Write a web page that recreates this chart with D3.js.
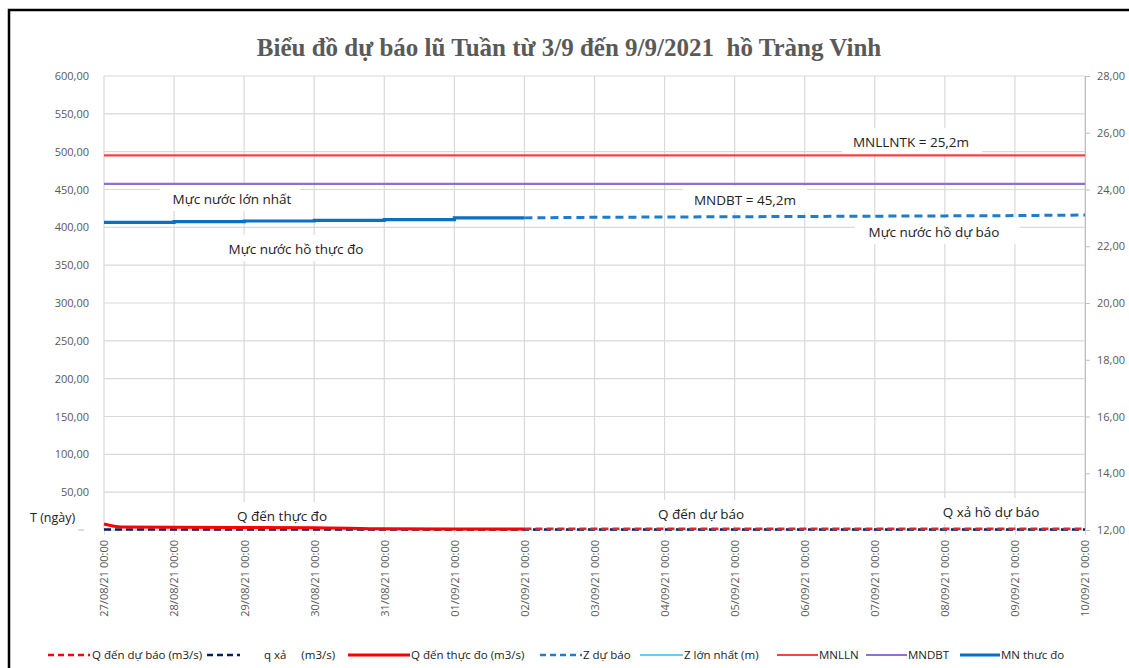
<!DOCTYPE html>
<html><head><meta charset="utf-8">
<script src="https://cdn.jsdelivr.net/npm/d3@7"></script>
<style>
body{margin:0;background:#fff;}
svg text{font-family:"Open Sans","Noto Sans",sans-serif;}
</style></head>
<body><svg id="c" width="1129" height="668"></svg>
<script>
// ---------- data ----------
const dayLabels = ["27/08/21 00:00","28/08/21 00:00","29/08/21 00:00","30/08/21 00:00","31/08/21 00:00","01/09/21 00:00","02/09/21 00:00","03/09/21 00:00","04/09/21 00:00","05/09/21 00:00","06/09/21 00:00","07/09/21 00:00","08/09/21 00:00","09/09/21 00:00","10/09/21 00:00"];
const leftTicks = [0,50,100,150,200,250,300,350,400,450,500,550,600];
const rightTicks = [12,14,16,18,20,22,24,26,28];

// MN thực đo (m, right axis)
const mnObsTimes = ["27/08/21 00:00","28/08/21 00:00","29/08/21 00:00","30/08/21 00:00","31/08/21 00:00","01/09/21 00:00","02/09/21 00:00"];
const mnObsValues = [22.84,22.87,22.89,22.91,22.94,23.00,23.00];
// Z dự báo (m, right axis)
const zFcTimes = ["02/09/21 00:00","03/09/21 00:00","04/09/21 00:00","05/09/21 00:00","06/09/21 00:00","07/09/21 00:00","08/09/21 00:00","09/09/21 00:00","10/09/21 00:00"];
const zFcValues = [23.00,23.02,23.03,23.04,23.05,23.06,23.07,23.08,23.10];
// MNLLN, MNDBT (right axis)
const mnllnValue = 25.2;
const mndbtValue = 24.2;
// Q đến thực đo (m3/s, left axis)
const qObsTimes = ["27/08/21 00:00","27/08/21 06:00","28/08/21 00:00","29/08/21 00:00","30/08/21 00:00","31/08/21 00:00","01/09/21 00:00","02/09/21 00:00"];
const qObsValues = [8,4,3.5,3.3,3.0,1.5,1.2,1.2];
// Q đến dự báo (m3/s)
const qFcTimes = zFcTimes;
const qFcValues = [1.5,1.5,1.5,1.5,1.5,1.5,1.5,1.5,1.5];
// q xả (m3/s)
const qOutTimes = dayLabels;
const qOutValues = [0.5,0.5,0.5,0.5,0.5,0.5,0.5,0.5,0.5,0.5,0.5,0.5,0.5,0.5,0.5];

const titleText = "Biểu đồ dự báo lũ Tuần từ 3/9 đến 9/9/2021  hồ Tràng Vinh";
const legendNames = ["Q đến dự báo (m3/s)","q xả     (m3/s)","Q đến thực đo (m3/s)","Z dự báo","Z lớn nhất (m)","MNLLN","MNDBT","MN thưc đo"];

// ---------- layout ----------
const parse = d3.timeParse("%d/%m/%y %H:%M");
const svg = d3.select("#c");
const X0=104, X1=1085, Y0=76, Y1=530;
const x = d3.scaleTime().domain([parse(dayLabels[0]), parse(dayLabels[dayLabels.length-1])]).range([X0,X1]);
const yL = d3.scaleLinear().domain([0,600]).range([Y1,Y0]);
const yR = d3.scaleLinear().domain([12,28]).range([Y1,Y0]);
const fmt = v => d3.format(".2f")(v).replace(".",",");

// border
svg.append("rect").attr("x",9).attr("y",10).attr("width",1140).attr("height",680)
  .attr("fill","none").attr("stroke","#000").attr("stroke-width",2.5);

// title
svg.append("text").attr("x",569).attr("y",56).attr("text-anchor","middle")
  .attr("xml:space","preserve").style("white-space","pre")
  .style("font-family","'Liberation Serif','DejaVu Serif',serif").style("font-weight","bold")
  .style("font-size","25px").attr("fill","#595959").text(titleText);

// gridlines
const grid = svg.append("g");
grid.selectAll(".h").data(leftTicks).join("line")
  .attr("x1",X0).attr("x2",X1).attr("y1",d=>yL(d)).attr("y2",d=>yL(d))
  .attr("stroke","#d9d9d9").attr("stroke-width",1.2);
grid.selectAll(".v").data(dayLabels).join("line")
  .attr("x1",d=>x(parse(d))).attr("x2",d=>x(parse(d))).attr("y1",Y0).attr("y2",Y1)
  .attr("stroke","#d9d9d9").attr("stroke-width",1.2);

// left axis labels
const gl = svg.append("g").attr("transform",`translate(${X0},0)`)
  .call(d3.axisLeft(yL).tickValues(leftTicks.filter(d=>d>0)).tickFormat(fmt).tickSize(0).tickPadding(15));
gl.select(".domain").remove();
gl.selectAll("text").attr("fill","#595959").style("font-size","11px");
svg.append("text").attr("x",30).attr("y",522).attr("fill","#222").style("font-size","12.5px").text("T (ngày)");
svg.append("line").attr("x1",78).attr("x2",84).attr("y1",Y1).attr("y2",Y1).attr("stroke","#bbb");

// right axis
const gr = svg.append("g").attr("transform",`translate(${X1},0)`)
  .call(d3.axisRight(yR).tickValues(rightTicks).tickFormat(fmt).tickSize(5).tickPadding(7));
gr.select(".domain").attr("stroke","#bfbfbf");
gr.selectAll("line").attr("stroke","#bfbfbf");
gr.selectAll("text").attr("fill","#595959").style("font-size","11px");

// bottom axis
const gb = svg.append("g").attr("transform",`translate(0,${Y1})`)
  .call(d3.axisBottom(x).tickValues(dayLabels.map(parse)).tickFormat(d3.timeFormat("%d/%m/%y %H:%M")).tickSize(5).tickPadding(0));
gb.select(".domain").attr("stroke","#d9d9d9");
gb.selectAll("line").attr("stroke","#d9d9d9");
gb.selectAll("text").attr("fill","#595959").style("font-size","11px")
  .attr("transform","rotate(-90)").attr("text-anchor","end").attr("x",-10).attr("y",0).attr("dy","0.35em");

// annotation label boxes (white backgrounds)
const annos = [
  {t:"Mực nước lớn nhất", x:232, y:199, bx:160, bw:140},
  {t:"Mực nước hồ thực đo", x:296, y:249, bx:217, bw:163},
  {t:"MNLLNTK = 25,2m", x:911, y:142, bx:842, bw:140},
  {t:"MNDBT = 45,2m", x:745, y:200, bx:683, bw:124},
  {t:"Mực nước hồ dự báo", x:934, y:232, bx:855, bw:165},
  {t:"Q đến thực đo", x:282, y:516, bx:225, bw:118},
  {t:"Q đến dự báo", x:701, y:514, bx:645, bw:115},
  {t:"Q xả hồ dự báo", x:991, y:512, bx:920, bw:145}
];
const ag = svg.append("g");
ag.selectAll("rect").data(annos).join("rect")
  .attr("x",d=>d.bx).attr("width",d=>d.bw).attr("y",d=>d.y-14).attr("height",26).attr("fill","#fff");

// lines
const lineL = d3.line().x(d=>x(d[0])).y(d=>yL(d[1]));
const lineR = d3.line().x(d=>x(d[0])).y(d=>yR(d[1]));
const zip = (ts,vs)=>ts.map((t,i)=>[parse(t),vs[i]]);

// horizontal reference lines
svg.append("path").datum([[parse(dayLabels[0]),mnllnValue],[parse(dayLabels[14]),mnllnValue]])
  .attr("d",lineR).attr("stroke","#ff4040").attr("stroke-width",2.2).attr("fill","none");
svg.append("path").datum([[parse(dayLabels[0]),mndbtValue],[parse(dayLabels[14]),mndbtValue]])
  .attr("d",lineR).attr("stroke","#8c72cc").attr("stroke-width",2.2).attr("fill","none");

// water levels
svg.append("path").datum(zip(zFcTimes,zFcValues)).attr("d",lineR)
  .attr("stroke","#1f7ccc").attr("stroke-width",3).attr("stroke-dasharray","8,5").attr("fill","none");
svg.append("path").datum(zip(mnObsTimes,mnObsValues))
  .attr("d",d3.line().x(d=>x(d[0])).y(d=>yR(d[1])).curve(d3.curveStepAfter))
  .attr("stroke","#0b6fc2").attr("stroke-width",3.2).attr("fill","none");

// discharges
svg.append("path").datum(zip(qOutTimes,qOutValues)).attr("d",lineL)
  .attr("stroke","#002060").attr("stroke-width",2.5).attr("stroke-dasharray","7,4").attr("fill","none");
svg.append("path").datum(zip(qObsTimes,qObsValues)).attr("d",d3.line().x(d=>x(d[0])).y(d=>yL(d[1])).curve(d3.curveMonotoneX))
  .attr("stroke","#ff0000").attr("stroke-width",3).attr("fill","none");
svg.append("path").datum(zip(qFcTimes,qFcValues)).attr("d",lineL)
  .attr("stroke","#e8202a").attr("stroke-width",2.5).attr("stroke-dasharray","7,4").attr("fill","none");

// annotation texts
ag.selectAll("text").data(annos).join("text")
  .attr("x",d=>d.x).attr("y",d=>d.y).attr("dy","0.35em").attr("text-anchor","middle")
  .attr("fill","#222").style("font-size","13.5px").text(d=>d.t);

// legend
const legend = [
  {sx:48, sw:42, tx:92, c:"#ff0000", w:2.5, dash:"6,4"},
  {sx:207, sw:33, tx:264, c:"#002060", w:2.5, dash:"6,4"},
  {sx:348, sw:62, tx:411, c:"#ff0000", w:3, dash:null},
  {sx:540, sw:42, tx:583, c:"#1f7ccc", w:2.5, dash:"6,4"},
  {sx:640, sw:43, tx:684, c:"#33bbee", w:1.5, dash:null},
  {sx:777, sw:41, tx:819, c:"#ff4040", w:1.8, dash:null},
  {sx:866, sw:41, tx:908, c:"#8c72cc", w:1.8, dash:null},
  {sx:960, sw:40, tx:1001, c:"#0b6fc2", w:3, dash:null}
];
const lg = svg.append("g");
legend.forEach((d,i)=>{
  lg.append("line").attr("x1",d.sx).attr("x2",d.sx+d.sw).attr("y1",655).attr("y2",655)
    .attr("stroke",d.c).attr("stroke-width",d.w).attr("stroke-dasharray",d.dash);
  lg.append("text").attr("x",d.tx).attr("y",655).attr("dy","0.35em").attr("fill","#222")
    .style("font-size","11.5px").style("white-space","pre").attr("xml:space","preserve").text(legendNames[i]);
});
</script></body></html>
